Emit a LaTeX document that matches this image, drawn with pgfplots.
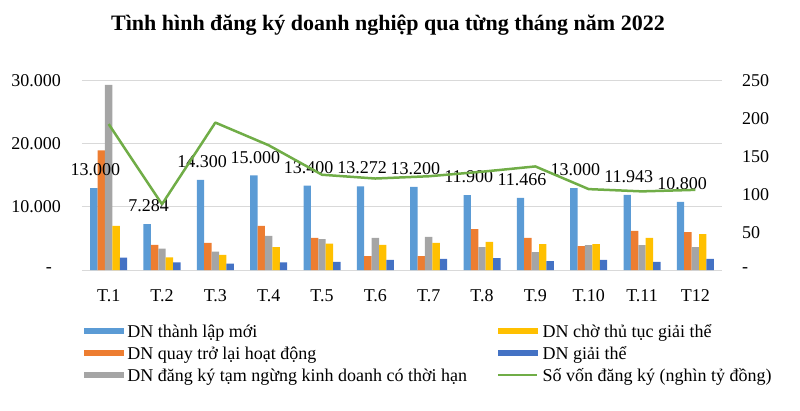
\documentclass[border=0pt]{standalone}
\usepackage{pgfplots}
\pgfplotsset{compat=1.18}
\usepackage{pgfplotstable}
\usepackage{fontspec}
\setmainfont{Liberation Serif}
\definecolor{cblue}{HTML}{5B9BD5}
\definecolor{corange}{HTML}{ED7D31}
\definecolor{cgray}{HTML}{A5A5A5}
\definecolor{cyellow}{HTML}{FFC000}
\definecolor{cdblue}{HTML}{4472C4}
\definecolor{cgreen}{HTML}{70AD47}
\definecolor{gridgray}{HTML}{D9D9D9}

\pgfplotstableread{
x blue orange gray yellow dblue lab
0 13000 19000 29400 7000 1950 13.000
1 7284 4000 3400 2000 1200 7.284
2 14300 4300 2900 2400 1000 14.300
3 15000 7000 5400 3650 1200 15.000
4 13400 5100 4900 4200 1300 13.400
5 13272 2200 5100 4000 1600 13.272
6 13200 2200 5250 4300 1750 13.200
7 11900 6500 3650 4450 1900 11.900
8 11466 5100 2850 4100 1400 11.466
9 13000 3800 3950 4100 1600 13.000
10 11943 6200 3950 5100 1300 11.943
11 10800 6000 3650 5700 1750 10.800
}\bars

\pgfplotstableread{
x von
0 193
1 87
2 195
3 165
4 126
5 121
6 124
7 130
8 137
9 107
10 104
11 106
}\von

\begin{document}
\begin{tikzpicture}
\path[use as bounding box] (-82bp,-141bp) rectangle (718bp,270bp);
\node[anchor=base, font=\bfseries\fontsize{22bp}{24bp}\selectfont] at (306bp,239bp) {Tình hình đăng ký doanh nghiệp qua từng tháng năm 2022};
\begin{axis}[
  width=640bp, height=189bp, scale only axis,
  xmin=-0.5, xmax=11.5, ymin=0, ymax=30000,
  ybar=0pt, bar width=7.4bp,
  axis line style={draw=none},
  tick style={draw=none},
  xtick={0,...,11},
  xticklabels={T.1,T.2,T.3,T.4,T.5,T.6,T.7,T.8,T.9,T.10,T.11,T12},
  ytick={0,10000,20000,30000},
  yticklabels={-\hspace*{9bp},10.000,20.000,30.000},
  scaled y ticks=false,
  ymajorgrids, grid style={draw=gridgray, line width=1bp},
  every tick label/.append style={font=\fontsize{18bp}{20bp}\selectfont},
  yticklabel style={anchor=east, inner sep=0pt, xshift=-21bp},
  xticklabel style={anchor=north, inner sep=0pt, yshift=-15bp},
  clip=false,
]
\addplot[fill=cblue, draw=none, nodes near coords, point meta=explicit symbolic,
  every node near coord/.append style={font=\fontsize{18bp}{20bp}\selectfont, text=black, anchor=south, inner sep=0pt, yshift=12bp, xshift=1.5bp}]
  table[x=x, y=blue, meta=lab] {\bars};
\addplot[fill=corange, draw=none] table[x=x, y=orange] {\bars};
\addplot[fill=cgray, draw=none] table[x=x, y=gray] {\bars};
\addplot[fill=cyellow, draw=none] table[x=x, y=yellow] {\bars};
\addplot[fill=cdblue, draw=none] table[x=x, y=dblue] {\bars};
\end{axis}
\begin{axis}[
  width=640bp, height=189bp, scale only axis,
  xmin=-0.5, xmax=11.5, ymin=0, ymax=250,
  axis x line=none, axis y line*=right,
  axis line style={draw=none},
  tick style={draw=none},
  ytick={0,50,100,150,200,250},
  yticklabels={-,50,100,150,200,250},
  every tick label/.append style={font=\fontsize{18bp}{20bp}\selectfont},
  yticklabel style={anchor=west, inner sep=0pt, xshift=20bp},
  clip=false,
  legend columns=2, legend cell align=left,
  legend style={draw=none, fill=none, at={(0.003125,-0.28042)}, anchor=north west,
    inner sep=0pt, outer sep=0pt, row sep=0pt, column sep=0pt,
    font=\fontsize{18bp}{20bp}\selectfont,
    nodes={inner sep=0pt, text height=14bp, text depth=8bp},
    /tikz/every odd column/.style={column sep=4bp},
    /tikz/every even column/.style={column sep=30bp}},
]
\addlegendimage{legend image code/.code={\fill[cblue] (0bp,0.5bp) rectangle (39bp,5.5bp);}}
\addlegendentry{DN thành lập mới}
\addlegendimage{legend image code/.code={\fill[cyellow] (0bp,0.5bp) rectangle (39bp,5.5bp);}}
\addlegendentry{DN chờ thủ tục giải thể}
\addlegendimage{legend image code/.code={\fill[corange] (0bp,0.5bp) rectangle (39bp,5.5bp);}}
\addlegendentry{DN quay trở lại hoạt động}
\addlegendimage{legend image code/.code={\fill[cdblue] (0bp,0.5bp) rectangle (39bp,5.5bp);}}
\addlegendentry{DN giải thể}
\addlegendimage{legend image code/.code={\fill[cgray] (0bp,0.5bp) rectangle (39bp,5.5bp);}}
\addlegendentry{DN đăng ký tạm ngừng kinh doanh có thời hạn}
\addplot[cgreen, line width=2.5bp, line join=round, mark=none,
  legend image code/.code={\draw[cgreen, line width=2.5bp] (0bp,3bp) -- (39bp,3bp);}]
  table[x=x, y=von] {\von};
\addlegendentry{Số vốn đăng ký (nghìn tỷ đồng)}
\end{axis}
\end{tikzpicture}
\end{document}
